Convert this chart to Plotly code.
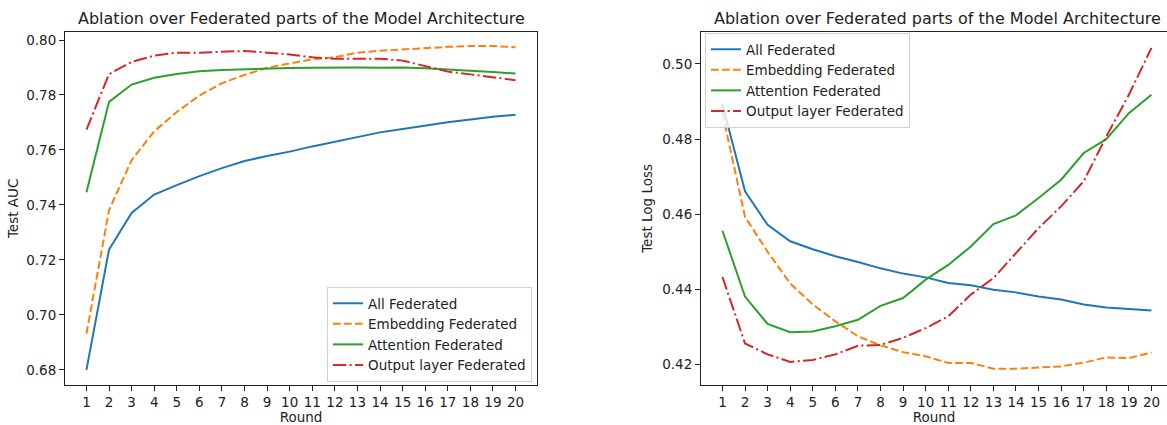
import plotly.graph_objects as go

rounds = list(range(1, 21))
series_names = ["All Federated", "Embedding Federated", "Attention Federated", "Output layer Federated"]

auc_all = [0.6800, 0.7238, 0.7371, 0.7438, 0.7472, 0.7505, 0.7534, 0.7560, 0.7578, 0.7594,
           0.7613, 0.7630, 0.7647, 0.7664, 0.7676, 0.7689, 0.7701, 0.7711, 0.7721, 0.7728]
auc_emb = [0.6932, 0.7381, 0.7563, 0.7668, 0.7738, 0.7798, 0.7843, 0.7873, 0.7899, 0.7915,
           0.7930, 0.7937, 0.7954, 0.7961, 0.7966, 0.7970, 0.7975, 0.7978, 0.7978, 0.7974]
auc_att = [0.7446, 0.7775, 0.7838, 0.7863, 0.7876, 0.7886, 0.7891, 0.7894, 0.7896, 0.7898,
           0.7899, 0.7900, 0.7900, 0.7899, 0.7900, 0.7897, 0.7893, 0.7889, 0.7884, 0.7878]
auc_out = [0.7674, 0.7876, 0.7920, 0.7943, 0.7954, 0.7954, 0.7957, 0.7960, 0.7954, 0.7947,
           0.7937, 0.7932, 0.7932, 0.7932, 0.7925, 0.7905, 0.7885, 0.7875, 0.7864, 0.7854]

loss_all = [0.4893, 0.4661, 0.4572, 0.4528, 0.4507, 0.4488, 0.4473, 0.4456, 0.4442, 0.4432,
            0.4417, 0.4411, 0.4399, 0.4392, 0.4381, 0.4373, 0.4360, 0.4352, 0.4348, 0.4344]
loss_emb = [0.4869, 0.4593, 0.4500, 0.4416, 0.4360, 0.4315, 0.4275, 0.4251, 0.4233, 0.4222,
            0.4204, 0.4204, 0.4189, 0.4189, 0.4192, 0.4195, 0.4205, 0.4219, 0.4217, 0.4232]
loss_att = [0.4556, 0.4381, 0.4308, 0.4286, 0.4288, 0.4302, 0.4319, 0.4356, 0.4377, 0.4426,
            0.4465, 0.4514, 0.4574, 0.4597, 0.4643, 0.4692, 0.4763, 0.4800, 0.4869, 0.4918]
loss_out = [0.4433, 0.4256, 0.4227, 0.4207, 0.4212, 0.4227, 0.4250, 0.4252, 0.4271, 0.4297,
            0.4328, 0.4386, 0.4430, 0.4496, 0.4563, 0.4621, 0.4688, 0.4807, 0.4918, 0.5043]

colors = ["#1f77b4", "#ff7f0e", "#2ca02c", "#d62728"]
dashes = ["solid", "7.7px,3.3px", "solid", "13.3px,3.3px,2.1px,3.3px"]

FONT = "DejaVu Sans"
W, H = 1167, 425

fig = go.Figure()

for name, ys, c, d in zip(series_names, [auc_all, auc_emb, auc_att, auc_out], colors, dashes):
    fig.add_trace(go.Scatter(x=rounds, y=ys, mode="lines", name=name,
                             line=dict(color=c, width=2, dash=d),
                             xaxis="x", yaxis="y", legend="legend"))
for name, ys, c, d in zip(series_names, [loss_all, loss_emb, loss_att, loss_out], colors, dashes):
    fig.add_trace(go.Scatter(x=rounds, y=ys, mode="lines", name=name,
                             line=dict(color=c, width=2, dash=d),
                             xaxis="x2", yaxis="y2", legend="legend2"))

ydom = [1 - 384.5 / H, 1 - 32.3 / H]
axis_common = dict(showline=True, linecolor="#222", linewidth=1, ticks="outside", ticklen=5,
                   tickwidth=1, tickcolor="#222", showgrid=False, zeroline=False,
                   tickfont=dict(family=FONT, size=13.5, color="#222"))

fig.update_layout(
    width=W, height=H,
    margin=dict(l=0, r=0, t=0, b=0),
    paper_bgcolor="white", plot_bgcolor="white",
    font=dict(family=FONT, color="#222"),
    xaxis=dict(domain=[65 / W, 537 / W], range=[0.05, 20.95], tickvals=rounds, mirror=True,
               title=dict(text="Round", font=dict(family=FONT, size=13.5), standoff=6),
               anchor="y", **axis_common),
    yaxis=dict(domain=ydom, range=[0.6747, 0.8028], tick0=0, dtick=0.02, tickformat=".2f",
               mirror=True, anchor="x",
               title=dict(text="Test AUC", font=dict(family=FONT, size=13.5), standoff=4),
               **axis_common),
    xaxis2=dict(domain=[701 / W, 1.0], range=[0.05, 0.05 + 466 / 22.58], tickvals=rounds, mirror=True,
                title=dict(text="Round", font=dict(family=FONT, size=13.5), standoff=6),
                anchor="y2", **axis_common),
    yaxis2=dict(domain=ydom, range=[0.41468, 0.50843], tick0=0, dtick=0.02, tickformat=".2f",
                mirror=False, anchor="x2",
                title=dict(text="Test Log Loss", font=dict(family=FONT, size=13.5), standoff=6),
                **axis_common),
    legend=dict(x=532 / W, y=1 - 382 / H, xanchor="right", yanchor="bottom",
                bgcolor="rgba(255,255,255,0.8)", bordercolor="#d0d0d0", borderwidth=1,
                font=dict(family=FONT, size=13.5, color="#222"), itemwidth=30,
                tracegroupgap=0),
    legend2=dict(x=705 / W, y=1 - 33 / H, xanchor="left", yanchor="top",
                 bgcolor="rgba(255,255,255,0.8)", bordercolor="#d0d0d0", borderwidth=1,
                 font=dict(family=FONT, size=13.5, color="#222"), itemwidth=30,
                 tracegroupgap=0),
    annotations=[
        dict(text="Ablation over Federated parts of the Model Architecture", xref="paper", yref="paper",
             x=301 / W, y=1 - 18 / H, xanchor="center", yanchor="middle", showarrow=False,
             font=dict(family=FONT, size=16, color="#222")),
        dict(text="Ablation over Federated parts of the Model Architecture", xref="paper", yref="paper",
             x=937 / W, y=1 - 18 / H, xanchor="center", yanchor="middle", showarrow=False,
             font=dict(family=FONT, size=16, color="#222")),
    ],
)

fig.write_html("out.html", config={"displayModeBar": False},
               post_script="document.body.style.margin='0px';document.body.style.overflow='hidden';")
